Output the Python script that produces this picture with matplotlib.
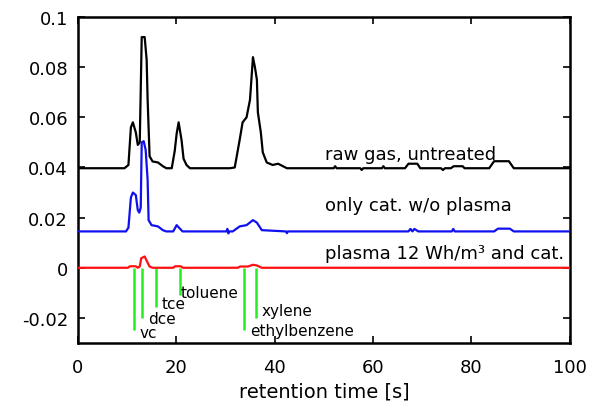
import matplotlib
matplotlib.use("Agg")
import matplotlib.pyplot as plt
from matplotlib.ticker import FixedLocator, FixedFormatter

# chromatogram traces
raw_t = [0, 9.5, 10.3, 10.8, 11.2, 11.8, 12.2, 12.6, 13.0, 13.6, 14.0, 14.2, 14.6,
         15.2, 16.3, 17.3, 18.0, 19.1, 19.7, 20.1, 20.5, 21.1, 21.5, 22.1, 22.8,
         30.9, 31.9, 32.9, 33.5, 34.3, 35.0, 35.6, 36.0, 36.4, 36.6, 37.2, 37.6,
         38.4, 39.6, 40.7, 42.5, 52.0, 52.3, 52.6, 57.4, 57.7, 58.0, 61.8, 62.1,
         62.4, 66.5, 67.2, 69.0, 69.6, 73.8, 74.2, 74.6, 75.8, 76.4, 78.2, 78.6,
         83.6, 84.6, 87.6, 88.6, 100]
raw_y = [0.0397, 0.0397, 0.041, 0.056, 0.058, 0.054, 0.049, 0.050, 0.092, 0.092,
         0.083, 0.067, 0.0445, 0.0424, 0.042, 0.0405, 0.0397, 0.0397, 0.0465,
         0.0535, 0.058, 0.0508, 0.0435, 0.041, 0.0397, 0.0397, 0.040, 0.051,
         0.058, 0.060, 0.067, 0.084, 0.080, 0.075, 0.062, 0.054, 0.046, 0.042,
         0.041, 0.0415, 0.0397, 0.0397, 0.0405, 0.0397, 0.0397, 0.0390, 0.0397,
         0.0397, 0.0405, 0.0397, 0.0397, 0.0415, 0.0415, 0.0397, 0.0397, 0.0390,
         0.0397, 0.0397, 0.0405, 0.0405, 0.0397, 0.0397, 0.0425, 0.0425, 0.0397,
         0.0397]

cat_t = [0, 9.8, 10.3, 10.8, 11.2, 11.8, 12.2, 12.5, 12.8, 13.0, 13.4, 13.8, 14.2,
         14.4, 15.0, 16.3, 17.3, 18.0, 19.4, 20.1, 20.8, 21.3, 30.2, 30.4, 30.6,
         30.8, 31.5, 32.9, 34.3, 35.6, 36.4, 37.4, 42.3, 42.5, 42.7, 67.2, 67.6,
         68.0, 68.4, 69.2, 69.6, 76.0, 76.3, 76.6, 84.6, 85.4, 87.8, 88.6, 100]
cat_y = [0.0145, 0.0145, 0.016, 0.028, 0.030, 0.029, 0.023, 0.022, 0.024, 0.050,
         0.0505, 0.047, 0.035, 0.019, 0.017, 0.0165, 0.015, 0.0145, 0.0145, 0.017,
         0.0155, 0.0145, 0.0145, 0.0155, 0.0137, 0.0145, 0.0145, 0.0165, 0.017,
         0.019, 0.018, 0.015, 0.0145, 0.0138, 0.0145, 0.0145, 0.0155, 0.0145,
         0.0155, 0.0145, 0.0145, 0.0145, 0.0155, 0.0145, 0.0145, 0.0156, 0.0156,
         0.0145, 0.0145]

plasma_t = [0, 10.2, 10.6, 11.8, 12.2, 12.6, 12.9, 13.6, 14.2, 14.6, 15.2, 19.4,
            19.8, 20.9, 21.4, 32.5, 33.0, 34.6, 35.6, 36.4, 37.4, 100]
plasma_y = [0, 0, 0.0006, 0.0006, 0, 0.0005, 0.0038, 0.0045, 0.002, 0.0005, 0, 0,
            0.0006, 0.0006, 0, 0, 0.0005, 0.0005, 0.0012, 0.0009, 0, 0]

# substance markers
peak_names = ["vc", "dce", "tce", "toluene", "ethylbenzene", "xylene"]
peak_t = [11.4, 13.1, 16.0, 20.7, 33.7, 36.2]
peak_depth = [-0.025, -0.020, -0.0155, -0.0108, -0.0248, -0.020]
label_x = [12.6, 14.4, 17.0, 21.0, 35.0, 37.4]
label_y = [-0.0258, -0.0204, -0.0143, -0.0099, -0.0252, -0.0171]

series_names = ["raw gas, untreated", "only cat. w/o plasma", "plasma 12 Wh/m³ and cat."]
series_label_y = [0.0452, 0.0252, 0.0060]

y_ticks = [-0.02, 0, 0.02, 0.04, 0.06, 0.08, 0.1]
y_tick_labels = ["-0.02", "0", "0.02", "0.04", "0.06", "0.08", "0.1"]

plt.rcParams["font.family"] = ["DejaVu Sans"]

fig = plt.figure(figsize=(5.98, 4.10), dpi=100)
ax = fig.add_axes([0.130, 0.161, 0.823, 0.795])

ax.vlines(peak_t, peak_depth, 0, color="#22ee22", lw=1.8, zorder=1)
ax.plot(raw_t, raw_y, color="black", lw=1.6, zorder=3)
ax.plot(cat_t, cat_y, color="#1010ee", lw=1.6, zorder=3)
ax.plot(plasma_t, plasma_y, color="#ff1010", lw=1.6, zorder=3)

for name, x, y in zip(peak_names, label_x, label_y):
    ax.text(x, y, name, fontsize=11, va="center", ha="left")

for name, y in zip(series_names, series_label_y):
    ax.text(50.2, y, name, fontsize=13, va="center", ha="left")

ax.set_xlim(0, 100)
ax.set_ylim(-0.03, 0.1)
ax.set_xticks([0, 20, 40, 60, 80, 100])
ax.yaxis.set_major_locator(FixedLocator(y_ticks))
ax.yaxis.set_major_formatter(FixedFormatter(y_tick_labels))
ax.tick_params(direction="in", length=5, width=1.2, top=True, right=True,
               labelsize=13, pad=7)
ax.tick_params(axis="x", pad=11)
for s in ax.spines.values():
    s.set_linewidth(1.8)

ax.set_xlabel("retention time [s]", fontsize=14, labelpad=4)

fig.savefig("out.png", dpi=100)
